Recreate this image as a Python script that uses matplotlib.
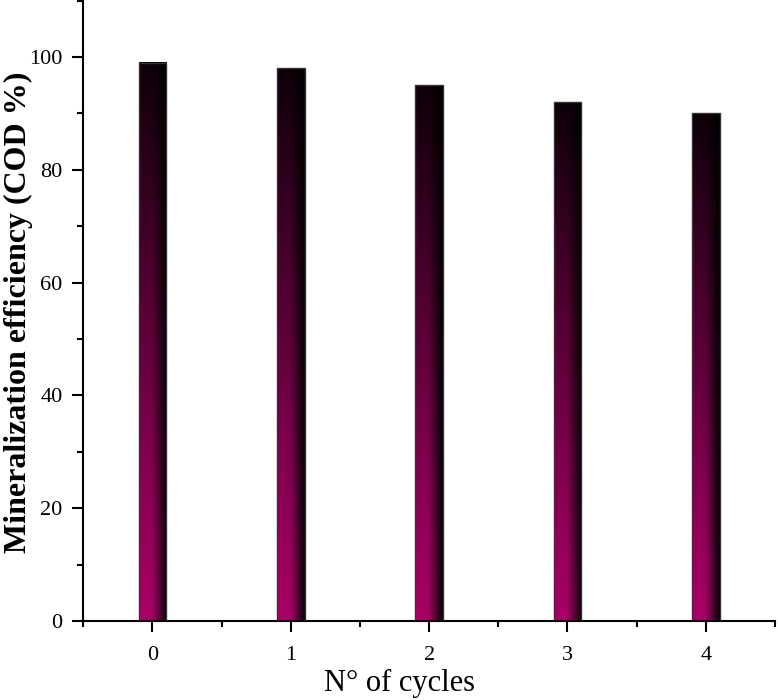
import numpy as np
import matplotlib
matplotlib.use("Agg")
import matplotlib.pyplot as plt
from matplotlib.ticker import MultipleLocator

# data
cycles = [0, 1, 2, 3, 4]
cod = [99, 98, 95, 92, 90]
xlabel = "N\u00b0 of cycles"
ylabel = "Mineralization efficiency (COD %)"

plt.rcParams['font.family'] = ['Liberation Serif', 'DejaVu Serif']

fig = plt.figure(figsize=(7.78, 7.00), dpi=100)
ax = fig.add_axes([0.107, 0.113, 0.889, 0.886])

bar_w = 0.2
magenta = np.array([0.66, 0.0, 0.40])

# gradient image: magenta on the left/bottom, going to black at right and top
nx, ny = 60, 200
gx = np.linspace(0, 1, nx)
gy = np.linspace(0, 1, ny)
fx = np.clip(1.0 - np.clip((gx - 0.45) / 0.55, 0, 1) ** 1.2 * 0.97, 0, 1)
fy = 1.0 - 0.92 * gy ** 1.1
grad = fy[:, None, None] * fx[None, :, None] * magenta[None, None, :]

bars = ax.bar(cycles, cod, width=bar_w, color='none', edgecolor='#333333',
              linewidth=1.0, zorder=3)
for b in bars:
    x0 = b.get_x()
    h = b.get_height()
    ax.imshow(grad, extent=[x0, x0 + bar_w, 0, h], origin='lower',
              aspect='auto', interpolation='bilinear', zorder=2)

ax.set_xlim(-0.5, 4.5)
ax.set_ylim(0, 110)
ax.set_xticks(cycles)
ax.xaxis.set_minor_locator(MultipleLocator(0.5))
ax.yaxis.set_major_locator(MultipleLocator(20))
ax.yaxis.set_minor_locator(MultipleLocator(10))

for s in ['top', 'right']:
    ax.spines[s].set_visible(False)
for s in ['left', 'bottom']:
    ax.spines[s].set_linewidth(1.5)

ax.tick_params(which='major', direction='out', length=8, width=1.5,
               labelsize=16)
ax.tick_params(which='minor', direction='out', length=4, width=1.5)
ax.tick_params(axis='x', which='major', pad=10)
ax.tick_params(axis='y', which='major', pad=7)

ax.set_xlabel(xlabel, fontsize=22)
ax.xaxis.set_label_coords(0.457, -0.077)
ax.set_ylabel(ylabel, fontsize=23, fontweight='bold')
ax.yaxis.set_label_coords(-0.073, 0.497)

fig.savefig("out.png", dpi=100)
